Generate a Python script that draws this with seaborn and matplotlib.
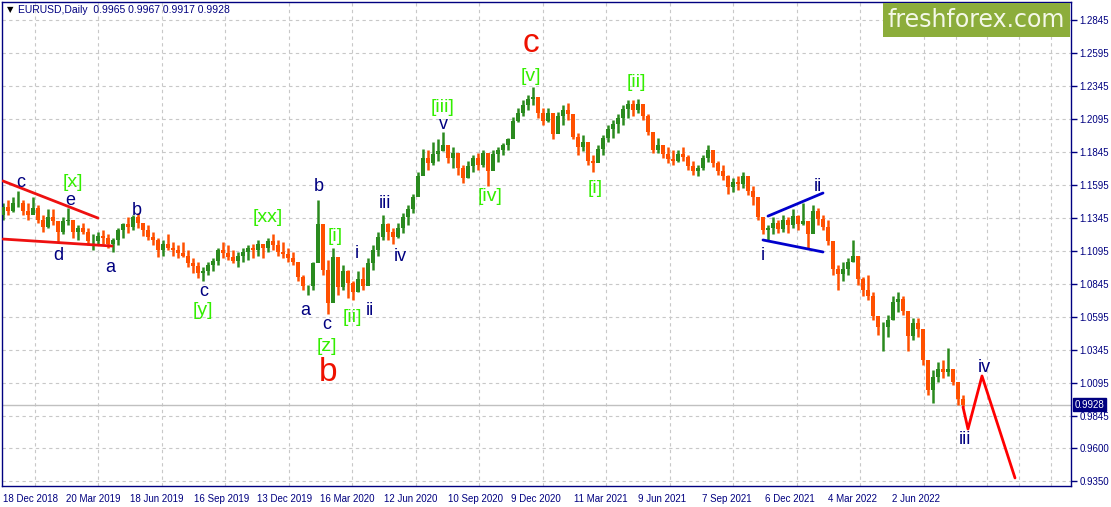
import numpy as np
import pandas as pd
import matplotlib
matplotlib.use("Agg")
import matplotlib.pyplot as plt
import seaborn as sns

# EURUSD daily (Dec 2018 .. Sep 2022)
first_open = 1.137
week_high = [
    1.146, 1.148, 1.150, 1.155, 1.148, 1.146, 1.150, 1.144, 1.137, 1.141,
    1.141, 1.129, 1.135, 1.142, 1.133, 1.129, 1.131, 1.127, 1.122, 1.124,
    1.125, 1.122, 1.119, 1.127, 1.131, 1.135, 1.137, 1.138, 1.131, 1.129,
    1.124, 1.119, 1.118, 1.122, 1.116, 1.114, 1.116, 1.110, 1.104, 1.101,
    1.097, 1.101, 1.104, 1.112, 1.116, 1.114, 1.110, 1.109, 1.112, 1.114,
    1.115, 1.118, 1.114, 1.119, 1.122, 1.118, 1.116, 1.112, 1.109, 1.101,
    1.091, 1.084, 1.101, 1.148, 1.129, 1.103, 1.112, 1.103, 1.099, 1.095,
    1.087, 1.094, 1.097, 1.104, 1.114, 1.124, 1.137, 1.131, 1.127, 1.131,
    1.138, 1.144, 1.153, 1.169, 1.187, 1.186, 1.192, 1.194, 1.200, 1.190,
    1.188, 1.182, 1.175, 1.178, 1.182, 1.184, 1.186, 1.175, 1.186, 1.188,
    1.191, 1.195, 1.211, 1.218, 1.224, 1.228, 1.234, 1.224, 1.218, 1.218,
    1.213, 1.215, 1.220, 1.222, 1.213, 1.199, 1.197, 1.188, 1.182, 1.190,
    1.197, 1.205, 1.209, 1.213, 1.220, 1.224, 1.224, 1.225, 1.220, 1.213,
    1.197, 1.195, 1.190, 1.188, 1.186, 1.186, 1.188, 1.182, 1.178, 1.175,
    1.182, 1.190, 1.186, 1.178, 1.175, 1.167, 1.165, 1.166, 1.169, 1.163,
    1.159, 1.148, 1.133, 1.129, 1.135, 1.133, 1.137, 1.135, 1.141, 1.137,
    1.146, 1.129, 1.144, 1.142, 1.137, 1.133, 1.114, 1.099, 1.101, 1.104,
    1.118, 1.099, 1.090, 1.091, 1.078, 1.059, 1.056, 1.061, 1.075, 1.078,
    1.075, 1.053, 1.059, 1.059, 1.045, 1.023, 1.019, 1.025, 1.027, 1.036,
    1.019, 1.008, 1.000,
]
week_low = [
    1.133, 1.137, 1.139, 1.143, 1.137, 1.133, 1.139, 1.131, 1.124, 1.127,
    1.129, 1.116, 1.122, 1.129, 1.119, 1.118, 1.122, 1.114, 1.110, 1.114,
    1.115, 1.112, 1.109, 1.114, 1.119, 1.123, 1.125, 1.127, 1.121, 1.118,
    1.114, 1.105, 1.106, 1.110, 1.106, 1.104, 1.105, 1.097, 1.093, 1.089,
    1.087, 1.091, 1.094, 1.099, 1.104, 1.103, 1.100, 1.097, 1.101, 1.103,
    1.104, 1.106, 1.104, 1.109, 1.110, 1.106, 1.104, 1.101, 1.099, 1.087,
    1.080, 1.076, 1.080, 1.118, 1.091, 1.062, 1.080, 1.076, 1.080, 1.074,
    1.072, 1.078, 1.080, 1.086, 1.095, 1.106, 1.118, 1.118, 1.115, 1.119,
    1.123, 1.129, 1.138, 1.156, 1.167, 1.171, 1.175, 1.178, 1.185, 1.176,
    1.172, 1.167, 1.161, 1.165, 1.169, 1.171, 1.173, 1.159, 1.171, 1.177,
    1.182, 1.186, 1.197, 1.207, 1.212, 1.216, 1.220, 1.210, 1.205, 1.207,
    1.194, 1.203, 1.205, 1.209, 1.194, 1.182, 1.185, 1.175, 1.169, 1.177,
    1.182, 1.192, 1.195, 1.199, 1.205, 1.210, 1.212, 1.214, 1.209, 1.197,
    1.184, 1.184, 1.180, 1.176, 1.175, 1.177, 1.178, 1.171, 1.167, 1.166,
    1.171, 1.177, 1.173, 1.167, 1.163, 1.153, 1.154, 1.156, 1.157, 1.152,
    1.144, 1.133, 1.122, 1.118, 1.122, 1.123, 1.124, 1.123, 1.127, 1.125,
    1.129, 1.112, 1.129, 1.129, 1.125, 1.114, 1.091, 1.080, 1.087, 1.091,
    1.101, 1.084, 1.075, 1.072, 1.057, 1.046, 1.034, 1.044, 1.057, 1.063,
    1.061, 1.034, 1.042, 1.044, 1.023, 1.000, 0.994, 1.010, 1.013, 1.015,
    1.008, 0.993, 0.991,
]
week_close = [
    1.143, 1.140, 1.146, 1.146, 1.140, 1.137, 1.142, 1.133, 1.128, 1.135,
    1.132, 1.124, 1.132, 1.133, 1.124, 1.127, 1.124, 1.117, 1.117, 1.121,
    1.119, 1.115, 1.118, 1.125, 1.130, 1.128, 1.135, 1.131, 1.125, 1.120,
    1.118, 1.110, 1.115, 1.112, 1.110, 1.108, 1.106, 1.100, 1.098, 1.093,
    1.094, 1.099, 1.102, 1.110, 1.108, 1.105, 1.102, 1.106, 1.109, 1.112,
    1.110, 1.115, 1.112, 1.117, 1.114, 1.109, 1.107, 1.104, 1.101, 1.090,
    1.083, 1.083, 1.100, 1.130, 1.095, 1.070, 1.105, 1.082, 1.094, 1.085,
    1.078, 1.088, 1.083, 1.100, 1.110, 1.120, 1.130, 1.124, 1.120, 1.127,
    1.135, 1.141, 1.150, 1.166, 1.180, 1.176, 1.183, 1.185, 1.190, 1.180,
    1.184, 1.172, 1.165, 1.174, 1.180, 1.175, 1.184, 1.170, 1.183, 1.186,
    1.190, 1.194, 1.208, 1.214, 1.220, 1.225, 1.226, 1.214, 1.208, 1.214,
    1.198, 1.212, 1.216, 1.213, 1.196, 1.188, 1.192, 1.178, 1.176, 1.187,
    1.195, 1.202, 1.206, 1.210, 1.217, 1.221, 1.216, 1.221, 1.212, 1.200,
    1.186, 1.190, 1.183, 1.179, 1.178, 1.183, 1.181, 1.174, 1.170, 1.172,
    1.180, 1.186, 1.176, 1.170, 1.166, 1.158, 1.162, 1.160, 1.166, 1.155,
    1.150, 1.135, 1.125, 1.127, 1.131, 1.126, 1.133, 1.129, 1.136, 1.130,
    1.132, 1.122, 1.140, 1.134, 1.128, 1.117, 1.096, 1.092, 1.096, 1.101,
    1.106, 1.088, 1.080, 1.075, 1.060, 1.052, 1.052, 1.057, 1.071, 1.073,
    1.064, 1.045, 1.055, 1.050, 1.027, 1.004, 1.014, 1.020, 1.018, 1.020,
    1.010, 0.997, 0.9928,
]
last_price = 0.9928

date_labels = ["18 Dec 2018", "20 Mar 2019", "18 Jun 2019", "16 Sep 2019",
               "13 Dec 2019", "16 Mar 2020", "12 Jun 2020", "10 Sep 2020",
               "9 Dec 2020", "11 Mar 2021", "9 Jun 2021", "7 Sep 2021",
               "6 Dec 2021", "4 Mar 2022", "2 Jun 2022"]
price_ticks = [1.2845, 1.2595, 1.2345, 1.2095, 1.1845, 1.1595, 1.1345, 1.1095,
               1.0845, 1.0595, 1.0345, 1.0095, 0.9845, 0.9600, 0.9350]

# drawn lines (bar, price)
wedge_top = ([0, 95], [1.1625, 1.1344])
wedge_bottom = ([0, 109], [1.1185, 1.1132])
tri_top = ([765, 820], [1.1359, 1.1534])
tri_bottom = ([760, 820], [1.1178, 1.1087])
proj_bar = [960, 965, 979, 1012]
proj_price = [0.9912, 0.9745, 1.0147, 0.9374]

# wave labels: (text, bar, price, kind)
wave_labels = [
    ("c", 18, 1.1617, "minor"), ("[x]", 70, 1.1610, "inter"), ("e", 67, 1.1481, "minor"),
    ("d", 55, 1.1057, "minor"), ("a", 107, 1.0973, "minor"), ("b", 134, 1.1405, "minor"),
    ("c", 201, 1.0784, "minor"), ("[y]", 200, 1.0647, "inter"), ("[xx]", 265, 1.1352, "inter"),
    ("a", 302, 1.0640, "minor"), ("b", 316, 1.1587, "minor"), ("[i]", 332, 1.1208, "inter"),
    ("c", 324, 1.0534, "minor"), ("[z]", 324, 1.0374, "inter"), ("b", 325, 1.0170, "major"),
    ("i", 354, 1.1079, "minor"), ("[ii]", 349, 1.0594, "inter"), ("ii", 367, 1.0640, "minor"),
    ("iii", 382, 1.1451, "minor"), ("iv", 397, 1.1049, "minor"), ("[iii]", 440, 1.2186, "inter"),
    ("v", 440, 1.2057, "minor"), ("[iv]", 487, 1.1504, "inter"), ("[v]", 528, 1.2421, "inter"),
    ("c", 528, 1.2671, "major"), ("[i]", 592, 1.1572, "inter"), ("[ii]", 633, 1.2368, "inter"),
    ("i", 760, 1.1057, "minor"), ("ii", 815, 1.1587, "minor"),
    ("iii", 962, 0.9662, "minor"), ("iv", 981, 1.0215, "minor"),
]

sns.set_style("white")
plt.rcParams["font.family"] = ["Liberation Sans", "DejaVu Sans"]

navy = "#000080"
up_col = "#2a8a1e"
down_col = "#ff5000"
grid_col = "#c8c8c8"

bars = pd.DataFrame({"high": week_high, "low": week_low, "close": week_close})
bars["open"] = [first_open] + week_close[:-1]
bars["bar"] = np.arange(len(bars)) * 5
bars["col"] = np.where(bars["close"] >= bars["open"], up_col, down_col)

fig = plt.figure(figsize=(11.11, 5.07), dpi=100)
ax = fig.add_axes([2 / 1111, 21 / 507, 1069 / 1111, 484 / 507])

# grid
ax.set_xticks(np.arange(15) * 63.5)
ax.set_xticks(np.arange(34) * 31.75, minor=True)
ax.set_yticks(price_ticks)
ax.grid(True, which="both", color=grid_col, ls=(0, (3, 3)), lw=0.8)
ax.grid(False, which="major", axis="x")
ax.set_axisbelow(True)

ax.axhline(last_price, color="#c0c0c0", lw=1, zorder=1)

# candles
ax.vlines(bars["bar"], bars["low"], bars["high"], colors=bars["col"], lw=1.8, zorder=2)
ax.bar(bars["bar"], bars["close"] - bars["open"], bottom=bars["open"], width=4.6,
       color=bars["col"], zorder=3, linewidth=0)

# wedge / triangle lines
ax.plot(*wedge_top, color="#ee1010", lw=2, zorder=4)
ax.plot(*wedge_bottom, color="#ee1010", lw=2, zorder=4)
ax.plot(*tri_top, color="#0000cc", lw=2, zorder=4)
ax.plot(*tri_bottom, color="#0000cc", lw=2, zorder=4)
sns.lineplot(x=proj_bar, y=proj_price, sort=False, color="#ff0000", lw=2, ax=ax, zorder=4)

styles = {"minor": dict(color=navy, fontsize=13),
          "inter": dict(color="#33ee00", fontsize=14),
          "major": dict(color="#ee1100", fontsize=24)}
for txt, b, p, kind in wave_labels:
    ax.text(b, p, txt, ha="center", va="center", zorder=5, **styles[kind])

ax.set_xlim(-1, 1068)
ax.set_ylim(0.9313, 1.2982)
ax.set_xlabel("")
ax.set_ylabel("")

ax.xaxis.set_ticklabels(date_labels)
for lab in ax.get_xticklabels():
    lab.set_horizontalalignment("left")
ax.yaxis.tick_right()
ax.set_yticklabels([f"{v:.4f}" for v in price_ticks])
ax.tick_params(axis="both", which="major", colors=navy, labelsize=7, length=4,
               width=1, direction="out", pad=2)
ax.tick_params(axis="x", which="minor", length=0)
for lab in ax.get_xticklabels() + ax.get_yticklabels():
    lab.set_color(navy)
for sp in ax.spines.values():
    sp.set_color(navy)
    sp.set_linewidth(1)

# current price tag
ax.text(1.0035, last_price, f"{last_price:.4f}", transform=ax.get_yaxis_transform(),
        ha="left", va="center", fontsize=7, color="white", zorder=6,
        bbox=dict(boxstyle="square,pad=0.15", fc=navy, ec=navy))

# header
fig.text(7 / 1111, 1 - 10 / 507, "\u25bc", fontsize=6, color="black", va="center",
         family="DejaVu Sans")
fig.text(18 / 1111, 1 - 10 / 507, "EURUSD,Daily  0.9965 0.9967 0.9917 0.9928",
         fontsize=7.5, color=navy, va="center")

# logo
logo_ax = fig.add_axes([883 / 1111, 1 - 37 / 507, 187 / 1111, 34 / 507])
logo_ax.set_facecolor("#8cad3b")
logo_ax.set_xticks([])
logo_ax.set_yticks([])
for sp in logo_ax.spines.values():
    sp.set_visible(False)
logo_ax.text(0.5, 0.5, "freshforex.com", ha="center", va="center", color="#f4f8e8",
             fontsize=17, family="DejaVu Sans", transform=logo_ax.transAxes)

fig.savefig("out.png", dpi=100)
plt.close(fig)
